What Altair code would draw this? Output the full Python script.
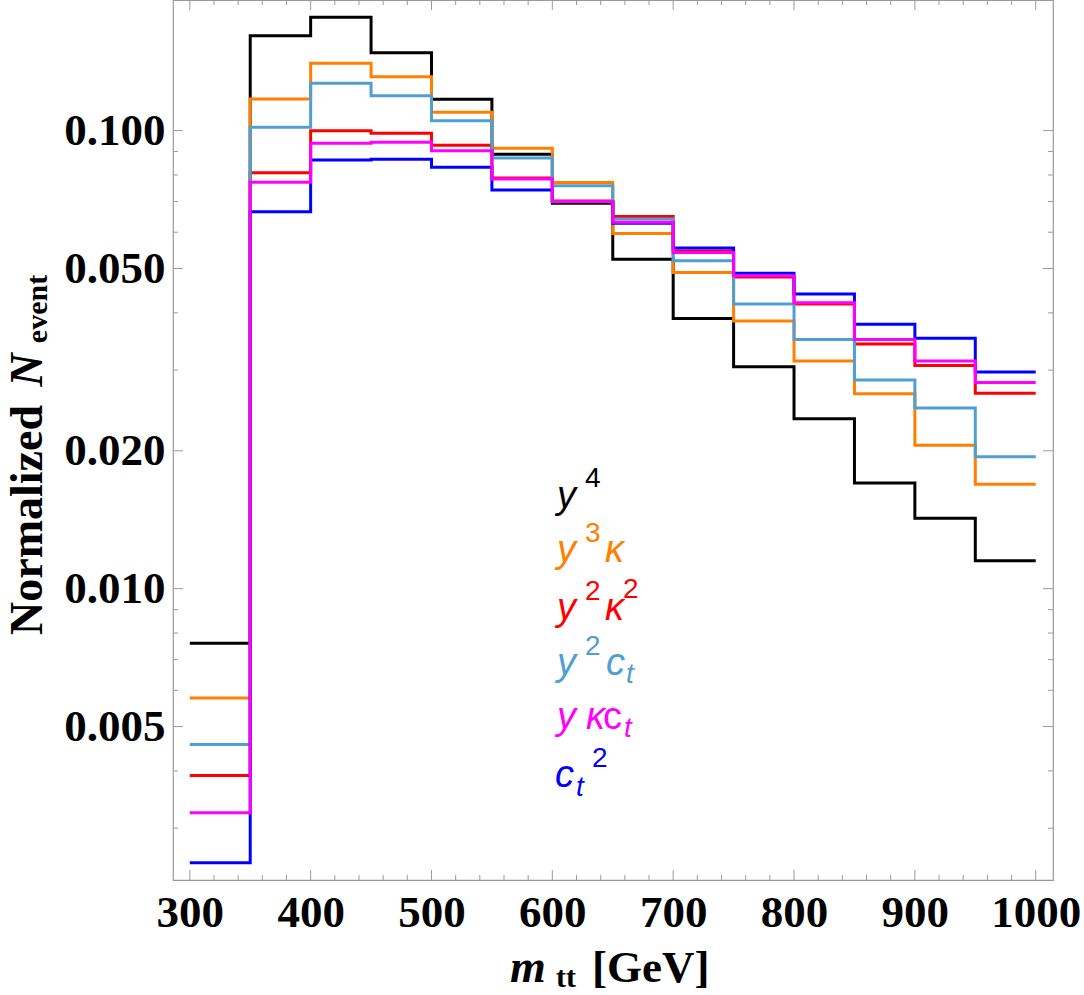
import altair as alt
import pandas as pd

# bin lower edges of the m_tt histogram (GeV); each bin is 50 GeV wide
bin_lo = [300, 350, 400, 450, 500, 550, 600, 650, 700, 750, 800, 850, 900, 950]
bin_hi_end = 1000

# normalized event fractions per bin for each coupling structure
y4     = [0.00760, 0.1611, 0.1767, 0.1479, 0.1170, 0.0888, 0.0694, 0.0524, 0.0389, 0.0305, 0.0235, 0.0170, 0.01425, 0.01151]
y3k    = [0.00577, 0.1172, 0.1403, 0.1311, 0.1096, 0.0915, 0.0770, 0.0596, 0.0490, 0.0384, 0.0314, 0.02665, 0.02056, 0.0169]
y2k2   = [0.00391, 0.0809, 0.0999, 0.0987, 0.0929, 0.0788, 0.0702, 0.0649, 0.0546, 0.0479, 0.0418, 0.0342, 0.0307, 0.0267]
y2ct   = [0.00457, 0.1017, 0.1268, 0.1192, 0.1051, 0.0871, 0.0758, 0.0641, 0.0520, 0.0418, 0.0350, 0.02855, 0.0248, 0.0194]
ct2    = [0.00252, 0.0665, 0.0863, 0.0866, 0.0832, 0.0742, 0.0700, 0.0628, 0.0554, 0.0488, 0.0440, 0.0378, 0.0352, 0.0297]
ykct   = [0.00324, 0.0771, 0.0938, 0.0943, 0.0904, 0.0784, 0.0700, 0.0631, 0.0542, 0.0482, 0.0421, 0.0350, 0.0314, 0.0282]

# drawing order (last on top) and colours
series = [
    ("y4", y4, "#000000"),
    ("y3k", y3k, "#FF8000"),
    ("y2k2", y2k2, "#FF0000"),
    ("y2ct", y2ct, "#4F9FD3"),
    ("ct2", ct2, "#0000FF"),
    ("ykct", ykct, "#FF00FF"),
]

# frame tick positions
x_major = [300, 400, 500, 600, 700, 800, 900, 1000]
x_minor = [320, 340, 360, 380, 420, 440, 460, 480, 520, 540, 560, 580, 620, 640, 660, 680,
           720, 740, 760, 780, 820, 840, 860, 880, 920, 940, 960, 980]
y_major = [0.005, 0.01, 0.02, 0.05, 0.1]
y_minor = [0.003, 0.004, 0.006, 0.007, 0.008, 0.009, 0.03, 0.04, 0.06, 0.07, 0.08, 0.09]

W, H = 880, 880
OX = 173  # left padding: x of the plot frame on the page

xscale = alt.Scale(domain=[286.1, 1014.3], nice=False, zero=False)
yscale = alt.Scale(type="log", domain=[0.002312, 0.1928], nice=False)

SERIF = "Liberation Serif"
SANS = "Liberation Sans"
FRAME = "#9a9a9a"

x_axis = alt.Axis(values=x_major, format="d", labelFont=SERIF, labelFontWeight="bold",
                  labelFontSize=45, labelColor="#000", labelPadding=10, ticks=False,
                  domain=False, grid=False, title=None, labelFlush=False, labelOverlap=False)
y_axis = alt.Axis(values=y_major, format=".3f", labelFont=SERIF, labelFontWeight="bold",
                  labelFontSize=45, labelColor="#000", labelPadding=8, ticks=False,
                  domain=False, grid=False, title=None, labelFlush=False, labelOverlap=False)

X = lambda: alt.X("m:Q", scale=xscale, axis=x_axis)
Y = lambda: alt.Y("v:Q", scale=yscale, axis=y_axis)


def step_frame(name, vals):
    xs = bin_lo + [bin_hi_end]
    vs = vals + [vals[-1]]
    return pd.DataFrame({"m": xs, "v": vs, "s": name})


layers = []

# histogram lines
for name, vals, col in series:
    df = step_frame(name, vals)
    layers.append(
        alt.Chart(df).mark_line(interpolate="step-after", strokeWidth=3, color=col,
                                strokeJoin="miter", clip=True).encode(x=X(), y=Y())
    )


# inward frame ticks
def yticks(vals, length):
    df = pd.DataFrame({"v": vals})
    left = alt.Chart(df).mark_rule(color=FRAME, strokeWidth=1).encode(
        y=Y(), x=alt.value(0), x2=alt.value(length))
    right = alt.Chart(df).mark_rule(color=FRAME, strokeWidth=1).encode(
        y=Y(), x=alt.value(W), x2=alt.value(W - length))
    return [left, right]


def xticks(vals, length):
    df = pd.DataFrame({"m": vals})
    bottom = alt.Chart(df).mark_rule(color=FRAME, strokeWidth=1).encode(
        x=X(), y=alt.value(H), y2=alt.value(H - length))
    top = alt.Chart(df).mark_rule(color=FRAME, strokeWidth=1).encode(
        x=X(), y=alt.value(0), y2=alt.value(length))
    return [bottom, top]


tick_layers = yticks(y_major, 10) + yticks(y_minor, 5) + xticks(x_major, 10) + xticks(x_minor, 5)


def txt(text, x, y, color="#000", size=38, font=SANS, style="italic", weight="normal",
        angle=0, align="left"):
    return alt.Chart(alt.Data(values=[{"k": 0}])).mark_text(
        text=text, font=font, fontSize=size, fontStyle=style, fontWeight=weight,
        color=color, align=align, baseline="alphabetic", angle=angle
    ).encode(x=alt.value(x - OX), y=alt.value(y))


BASE, SUP, SUB = 38, 28, 28
texts = []
# legend entries: y^4, y^3 kappa, y^2 kappa^2, y^2 c_t, y kappa c_t, c_t^2
c = "#000000"; b = 508
texts += [txt("y", 557, b, c, BASE), txt("4", 585, b - 21, c, SUP, style="normal")]
c = "#FF8000"; b = 562
texts += [txt("y", 557, b, c, BASE), txt("3", 585, b - 20, c, SUP, style="normal"),
          txt("κ", 605, b, c, BASE)]
c = "#FF0000"; b = 620
texts += [txt("y", 557, b, c, BASE), txt("2", 585, b - 20, c, SUP, style="normal"),
          txt("κ", 605, b, c, BASE), txt("2", 623, b - 22, c, SUP, style="normal")]
c = "#4F9FD3"; b = 675
texts += [txt("y", 557, b, c, BASE), txt("2", 585, b - 20, c, SUP, style="normal"),
          txt("c", 606, b, c, BASE), txt("t", 626, b + 8, c, SUB)]
c = "#FF00FF"; b = 729
texts += [txt("y", 557, b, c, BASE), txt("κ", 586, b, c, BASE),
          txt("c", 603, b, c, BASE, style="normal"), txt("t", 624, b + 8, c, SUB)]
c = "#0000FF"; b = 787
texts += [txt("c", 555, b, c, BASE), txt("t", 576, b + 9, c, SUB),
          txt("2", 592, b - 20, c, SUP, style="normal")]

# x-axis title: m_tt [GeV]
texts += [txt("m", 510, 982, "#000", 46, font=SERIF, style="italic", weight="bold"),
          txt("tt", 556, 987, "#000", 30, font=SERIF, style="normal", weight="bold"),
          txt("[GeV]", 592, 982, "#000", 45, font=SERIF, style="normal", weight="bold")]

# y-axis title: Normalized N_event (rotated)
texts += [txt("Normalized", 42, 520, "#000", 46, font=SERIF, style="normal", weight="bold",
              angle=270, align="center"),
          txt("N", 42, 370, "#000", 46, font=SERIF, style="italic", weight="bold",
              angle=270, align="center"),
          txt("event", 47, 309, "#000", 30, font=SERIF, style="normal", weight="bold",
              angle=270, align="center")]

chart = alt.layer(*layers, *tick_layers, *texts).properties(
    width=W, height=H,
    padding={"left": OX, "top": 0, "right": 1084 - OX - W, "bottom": 995 - H},
    autosize=alt.AutoSizeParams(type="none"),
    background="#ffffff",
).configure_view(stroke=FRAME, strokeWidth=1.2)

chart.save("out.html", embed_options={"renderer": "svg", "actions": False})
